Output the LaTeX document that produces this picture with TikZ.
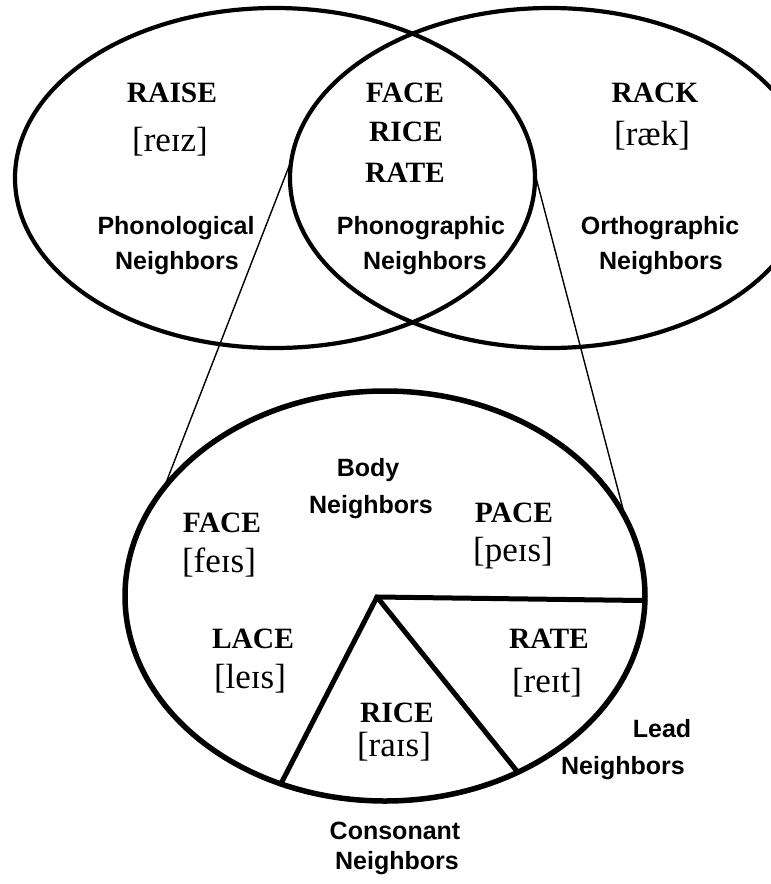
\documentclass[tikz,border=0pt]{standalone}
\usepackage{fontspec}
\setmainfont{Liberation Serif}
\newfontfamily\sansf{Liberation Sans}
\usetikzlibrary{shapes.geometric}
\tikzset{
  venn/.style={ellipse, draw, line width=4.2pt, outer sep=0pt, inner sep=0pt},
  bigell/.style={ellipse, draw, line width=5.5pt, outer sep=0pt, inner sep=0pt},
  thinline/.style={line width=1.4pt},
  pieline/.style={line width=5pt, line cap=round},
  sanslab/.style={font=\sansf\bfseries\fontsize{25}{30}\selectfont, anchor=base, inner sep=0pt},
  word/.style={font=\bfseries\fontsize{29.5}{34}\selectfont, anchor=base, inner sep=0pt},
  ipa/.style={font=\fontsize{35}{40}\selectfont, inner sep=0pt}
}
\begin{document}
\begin{tikzpicture}[x=1pt, y=-1pt]
\useasboundingbox (0,0) rectangle (771,884);
\fill[white] (0,0) rectangle (771,884);
\clip (0,0) rectangle (771,884);

% top Venn ellipses
\node[venn, minimum width=520pt, minimum height=340pt] (L) at (275,178) {};
\node[venn, minimum width=520pt, minimum height=340pt] (R) at (550,178) {};

% big ellipse
\node[bigell, minimum width=520pt, minimum height=410pt] (big) at (385,596) {};
\coordinate (hub) at (377,597);

% connecting thin lines
\draw[thinline] (R.176) -- (big.154.6);
\draw[thinline] (L.1.5) -- (big.18.2);

% pie lines
\draw[pieline] (big.-1.3) -- (hub) -- (big.-119);
\draw[pieline] (hub) -- (big.-53.7);

% top texts
\node[word] (raise) at (172,102) {RAISE};
\node[ipa] (raiseipa) at (170,142) {[reɪz]};
\node[word] (face1) at (405,102) {FACE};
\node[word] (rice1) at (406,141) {RICE};
\node[word] (rate1) at (405,182) {RATE};
\node[word] (rack) at (655,102) {RACK};
\node[ipa] (rackipa) at (652,136) {[ræk]};

\node[sanslab] (phon1) at (176,234) {Phonological};
\node[sanslab] (phon2) at (177,269) {Neighbors};
\node[sanslab] (pg1) at (421,234) {Phonographic};
\node[sanslab] (pg2) at (425,269) {Neighbors};
\node[sanslab] (orth1) at (660,234) {Orthographic};
\node[sanslab] (orth2) at (661,269) {Neighbors};

% big ellipse texts
\node[sanslab] (body1) at (368,476) {Body};
\node[sanslab] (body2) at (371,513) {Neighbors};
\node[word] (face2) at (222,532) {FACE};
\node[ipa] (faceipa) at (219,563) {[feɪs]};
\node[word] (pace) at (514,522) {PACE};
\node[ipa] (paceipa) at (513,553) {[peɪs]};
\node[word] (lace) at (253,648) {LACE};
\node[ipa] (laceipa) at (250,679) {[leɪs]};
\node[word] (rate2) at (549,648) {RATE};
\node[ipa] (rateipa) at (547,683) {[reɪt]};
\node[word] (rice2) at (397,722) {RICE};
\node[ipa] (riceipa) at (394,747) {[raɪs]};

\node[sanslab] (lead1) at (662,737) {Lead};
\node[sanslab] (lead2) at (623,774) {Neighbors};
\node[sanslab] (cons1) at (395,839) {Consonant};
\node[sanslab] (cons2) at (397,869) {Neighbors};
\end{tikzpicture}
\end{document}
